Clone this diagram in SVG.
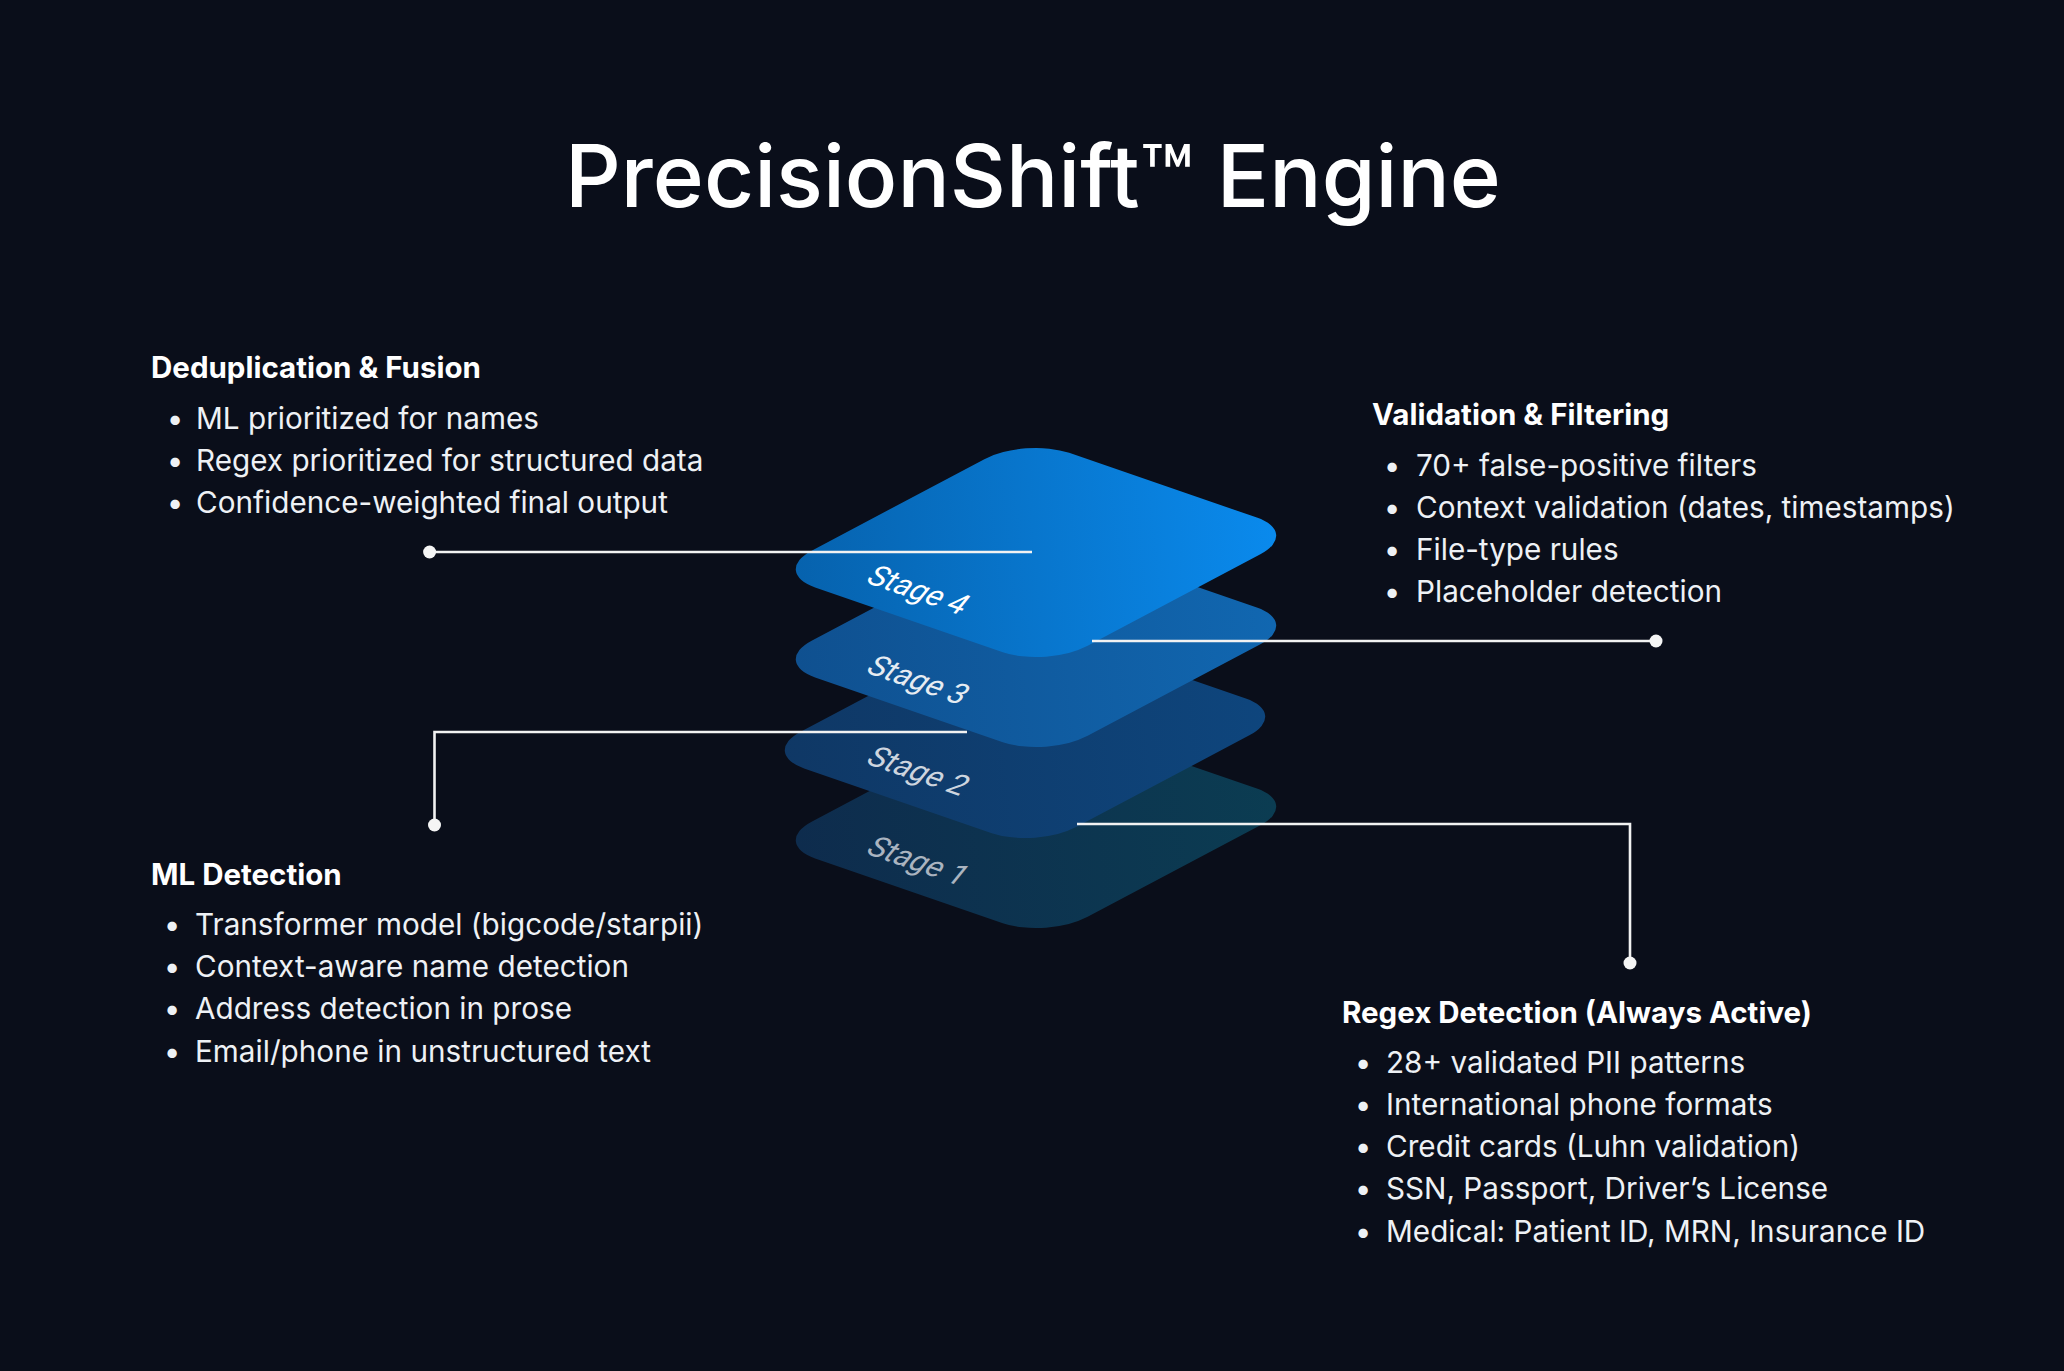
<svg xmlns="http://www.w3.org/2000/svg" width="2064" height="1371" viewBox="0 0 2064 1371">
<defs>
<linearGradient id="g4" x1="0" y1="1" x2="1" y2="0"><stop offset="0" stop-color="#0660aa"/><stop offset="1" stop-color="#0a8cf0"/></linearGradient>
<linearGradient id="g3" x1="0" y1="1" x2="1" y2="0"><stop offset="0" stop-color="#0f4f8e"/><stop offset="1" stop-color="#1168b2"/></linearGradient>
<linearGradient id="g2" x1="0" y1="1" x2="1" y2="0"><stop offset="0" stop-color="#0f3764"/><stop offset="1" stop-color="#0e467e"/></linearGradient>
<linearGradient id="g1" x1="0" y1="1" x2="1" y2="0"><stop offset="0" stop-color="#0e2b4d"/><stop offset="1" stop-color="#0b3d52"/></linearGradient>
</defs>
<style>
text{font-family:Inter,Roboto,"Liberation Sans",sans-serif}
.title{font-size:87px;font-weight:500;fill:#ffffff}
.h{font-size:29.5px;font-weight:700;fill:#ffffff}
.b{font-size:29.7px;fill:#eef1f5}
.st{font-family:Roboto,"Liberation Sans",sans-serif;font-size:30px}
.ln{fill:none;stroke:#f2f2f2;stroke-width:2.6}
.dot{fill:#f5f5f5}
</style>
<rect width="2064" height="1371" fill="#0a0e1a"/>
<text class="title" x="1033" y="207" text-anchor="middle">PrecisionShift™ Engine</text>

<g id="stage1" transform="translate(0,271)">
<rect transform="matrix(2.76,0.952,-2.54,1.346,1025,437.6)" width="100" height="100" rx="16" fill="url(#g1)"/>
<text class="st" transform="translate(864,582) rotate(19) skewX(-20)" fill="#aab4c0">Stage 1</text>
</g>
<g id="stage2" transform="translate(-11,181)">
<rect transform="matrix(2.76,0.952,-2.54,1.346,1025,437.6)" width="100" height="100" rx="16" fill="url(#g2)"/>
<text class="st" transform="translate(875,582) rotate(19) skewX(-20)" fill="#cdd5df">Stage 2</text>
</g>
<g id="stage3" transform="translate(0,90)">
<rect transform="matrix(2.76,0.952,-2.54,1.346,1025,437.6)" width="100" height="100" rx="16" fill="url(#g3)"/>
<text class="st" transform="translate(864,582) rotate(19) skewX(-20)" fill="#e6ecf2">Stage 3</text>
</g>
<g id="stage4">
<rect transform="matrix(2.76,0.952,-2.54,1.346,1025,437.6)" width="100" height="100" rx="16" fill="url(#g4)"/>
<text class="st" transform="translate(864,582) rotate(19) skewX(-20)" fill="#ffffff">Stage 4</text>
</g>

<g id="connectors">
<path class="ln" d="M429.6 552 H1032"/>
<path class="ln" d="M1092 641 H1656"/>
<path class="ln" d="M434.5 825 V732 H967"/>
<path class="ln" d="M1077 824 H1630 V963"/>
<circle class="dot" cx="429.6" cy="552" r="6.5"/>
<circle class="dot" cx="1656" cy="641" r="6.5"/>
<circle class="dot" cx="434.5" cy="825" r="6.5"/>
<circle class="dot" cx="1630" cy="963" r="6.5"/>
</g>

<g id="dedup">
<text class="h" x="151" y="378">Deduplication &amp; Fusion</text>
<text class="b" y="429"><tspan x="175" text-anchor="middle">•</tspan><tspan x="196">ML prioritized for names</tspan></text>
<text class="b" y="471"><tspan x="175" text-anchor="middle">•</tspan><tspan x="196">Regex prioritized for structured data</tspan></text>
<text class="b" y="513"><tspan x="175" text-anchor="middle">•</tspan><tspan x="196">Confidence-weighted final output</tspan></text>
</g>

<g id="validation">
<text class="h" x="1372" y="425">Validation &amp; Filtering</text>
<text class="b" y="476"><tspan x="1392" text-anchor="middle">•</tspan><tspan x="1416">70+ false-positive filters</tspan></text>
<text class="b" y="518"><tspan x="1392" text-anchor="middle">•</tspan><tspan x="1416">Context validation (dates, timestamps)</tspan></text>
<text class="b" y="560"><tspan x="1392" text-anchor="middle">•</tspan><tspan x="1416">File-type rules</tspan></text>
<text class="b" y="602"><tspan x="1392" text-anchor="middle">•</tspan><tspan x="1416">Placeholder detection</tspan></text>
</g>

<g id="ml">
<text class="h" x="151" y="885">ML Detection</text>
<text class="b" y="935"><tspan x="172" text-anchor="middle">•</tspan><tspan x="195">Transformer model (bigcode/starpii)</tspan></text>
<text class="b" y="977"><tspan x="172" text-anchor="middle">•</tspan><tspan x="195">Context-aware name detection</tspan></text>
<text class="b" y="1019"><tspan x="172" text-anchor="middle">•</tspan><tspan x="195">Address detection in prose</tspan></text>
<text class="b" y="1062"><tspan x="172" text-anchor="middle">•</tspan><tspan x="195">Email/phone in unstructured text</tspan></text>
</g>

<g id="regex">
<text class="h" x="1342" y="1023">Regex Detection (Always Active)</text>
<text class="b" y="1073"><tspan x="1363" text-anchor="middle">•</tspan><tspan x="1386">28+ validated PII patterns</tspan></text>
<text class="b" y="1115"><tspan x="1363" text-anchor="middle">•</tspan><tspan x="1386">International phone formats</tspan></text>
<text class="b" y="1157"><tspan x="1363" text-anchor="middle">•</tspan><tspan x="1386">Credit cards (Luhn validation)</tspan></text>
<text class="b" y="1199"><tspan x="1363" text-anchor="middle">•</tspan><tspan x="1386">SSN, Passport, Driver’s License</tspan></text>
<text class="b" y="1242"><tspan x="1363" text-anchor="middle">•</tspan><tspan x="1386">Medical: Patient ID, MRN, Insurance ID</tspan></text>
</g>
</svg>
